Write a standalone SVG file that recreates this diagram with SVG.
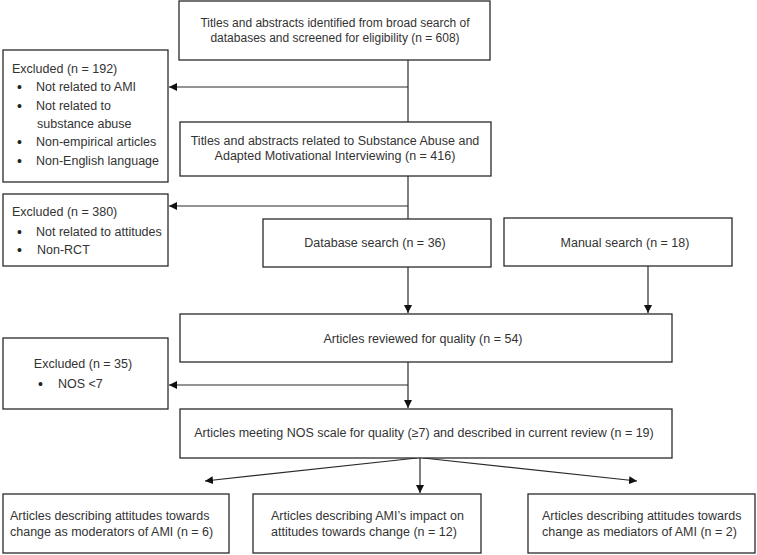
<svg xmlns="http://www.w3.org/2000/svg" width="757" height="555" viewBox="0 0 757 555">
<style>
.box{fill:#fff;stroke:#2a2a2a;stroke-width:1.3}
text{font-family:"Liberation Sans",Arial,sans-serif;font-size:12.5px;fill:#333}
.c{text-anchor:middle}
.b{font-size:14px;fill:#222}
.ln{fill:none;stroke:#2a2a2a;stroke-width:1.2}
</style>
<defs>
<marker id="ah" viewBox="0 0 10 10" refX="10" refY="5" markerWidth="8" markerHeight="8" markerUnits="userSpaceOnUse" orient="auto">
<path d="M0,0 L10,5 L0,10 z" fill="#111"/>
</marker>
</defs>
<rect width="757" height="555" fill="#fff"/>
<g id="connectors">
<line class="ln" x1="408" y1="60" x2="408" y2="122"/>
<line class="ln" x1="408" y1="87" x2="169" y2="87" marker-end="url(#ah)"/>
<line class="ln" x1="408" y1="176" x2="408" y2="219"/>
<line class="ln" x1="408" y1="206" x2="169" y2="206" marker-end="url(#ah)"/>
<line class="ln" x1="408" y1="267" x2="408" y2="313" marker-end="url(#ah)"/>
<line class="ln" x1="648" y1="266" x2="648" y2="313" marker-end="url(#ah)"/>
<line class="ln" x1="408" y1="362" x2="408" y2="408" marker-end="url(#ah)"/>
<line class="ln" x1="408" y1="385" x2="169" y2="385" marker-end="url(#ah)"/>
<line class="ln" x1="417" y1="458" x2="205" y2="481" marker-end="url(#ah)"/>
<line class="ln" x1="420" y1="458" x2="420" y2="493" marker-end="url(#ah)"/>
<line class="ln" x1="423" y1="458" x2="637" y2="481" marker-end="url(#ah)"/>
</g>
<g id="n1">
<rect class="box" x="179" y="1" width="311" height="59"/>
<text class="c" x="335" y="27" style="font-size:12px">Titles and abstracts identified from broad search of</text>
<text class="c" x="335" y="42" style="font-size:12px">databases and screened for eligibility (n = 608)</text>
</g>
<g id="ex192">
<rect class="box" x="3" y="50" width="165" height="132"/>
<text x="12" y="73">Excluded (n = 192)</text>
<text class="b" x="17" y="92">•</text><text x="36" y="91">Not related to AMI</text>
<text class="b" x="17" y="111">•</text><text x="36" y="110">Not related to</text>
<text x="37" y="128">substance abuse</text>
<text class="b" x="17" y="147">•</text><text x="36" y="146">Non-empirical articles</text>
<text class="b" x="17" y="166">•</text><text x="36" y="165">Non-English language</text>
</g>
<g id="n2">
<rect class="box" x="180" y="122" width="311" height="54"/>
<text class="c" x="335" y="145">Titles and abstracts related to Substance Abuse and</text>
<text class="c" x="335" y="160">Adapted Motivational Interviewing (n = 416)</text>
</g>
<g id="ex380">
<rect class="box" x="3" y="194" width="165" height="72"/>
<text x="12" y="216">Excluded (n = 380)</text>
<text class="b" x="17" y="237">•</text><text x="36" y="236">Not related to attitudes</text>
<text class="b" x="17" y="255">•</text><text x="37" y="254">Non-RCT</text>
</g>
<g id="db">
<rect class="box" x="263" y="219" width="228" height="48"/>
<text class="c" x="375" y="247">Database search (n = 36)</text>
</g>
<g id="manual">
<rect class="box" x="504" y="218" width="228" height="48"/>
<text class="c" x="625" y="247">Manual search (n = 18)</text>
</g>
<g id="reviewed">
<rect class="box" x="180" y="314" width="492" height="48"/>
<text class="c" x="423" y="343">Articles reviewed for quality (n = 54)</text>
</g>
<g id="ex35">
<rect class="box" x="3" y="338" width="165" height="71"/>
<text class="c" x="83" y="368">Excluded (n = 35)</text>
<text class="b" x="38" y="389">•</text><text x="58" y="388">NOS &lt;7</text>
</g>
<g id="nos">
<rect class="box" x="180" y="409" width="492" height="49"/>
<text class="c" x="424" y="437">Articles meeting NOS scale for quality (≥7) and described in current review (n = 19)</text>
</g>
<g id="b1">
<rect class="box" x="3" y="494" width="226" height="59"/>
<text x="10" y="520">Articles describing attitudes towards</text>
<text x="10" y="536">change as moderators of AMI (n = 6)</text>
</g>
<g id="b2">
<rect class="box" x="253" y="494" width="228" height="59"/>
<text x="271" y="520">Articles describing AMI’s impact on</text>
<text x="271" y="536">attitudes towards change (n = 12)</text>
</g>
<g id="b3">
<rect class="box" x="528" y="494" width="227" height="59"/>
<text x="542" y="520">Articles describing attitudes towards</text>
<text x="542" y="536">change as mediators of AMI (n = 2)</text>
</g>
</svg>
